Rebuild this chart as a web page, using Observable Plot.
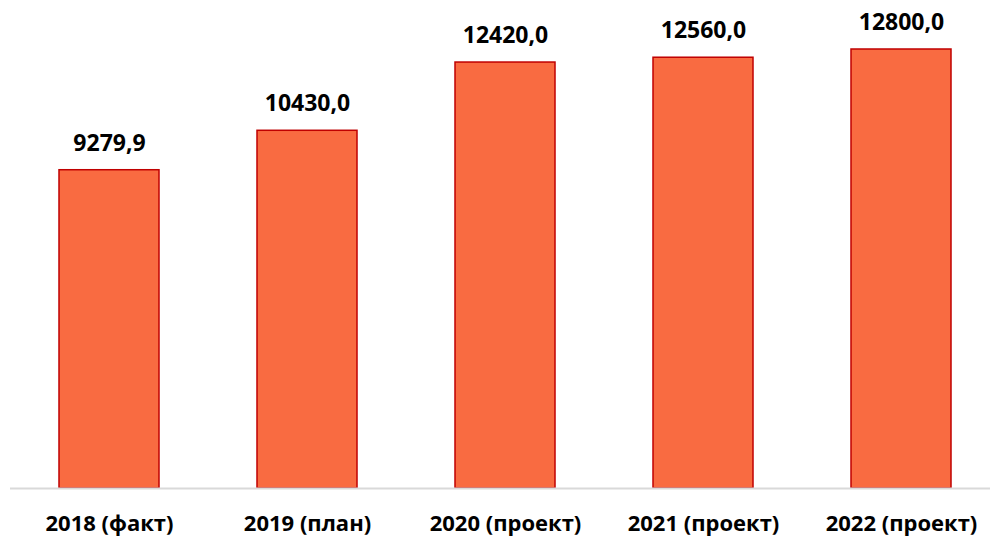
<!DOCTYPE html>
<html><head><meta charset="utf-8">
<script src="https://cdn.jsdelivr.net/npm/d3@7"></script>
<script src="https://cdn.jsdelivr.net/npm/@observablehq/plot@0.6"></script>
<style>body{margin:0;background:#fff;} svg{display:block;}</style>
</head><body><div id="chart"></div>
<script>
const categories = ["2018 (факт)", "2019 (план)", "2020 (проект)", "2021 (проект)", "2022 (проект)"];
const values = [9279.9, 10430.0, 12420.0, 12560.0, 12800.0];
const data = categories.map((c, i) => ({cat: c, value: values[i]}));
const fmt = v => d3.format(".1f")(v).replace(".", ",");
const chart = Plot.plot({
  width: 990, height: 536,
  marginLeft: 10, marginRight: 0, marginTop: 0, marginBottom: 48,
  style: {fontFamily: "'Open Sans', sans-serif", background: "#fff"},
  x: {domain: categories, range: [9, 1000], paddingInner: 0.495, paddingOuter: 0.2475, label: null, tickSize: 0, tickPadding: 0},
  y: {domain: [0, 12800], range: [488, 49], axis: null},
  marks: [
    Plot.barY(data, {x: "cat", y: "value", fill: "#F96B41", stroke: "#C00000", strokeWidth: 1.5}),
    Plot.ruleY([0], {stroke: "#D9D9D9", strokeWidth: 2}),
    Plot.text(data, {x: "cat", y: "value", text: d => fmt(d.value), lineAnchor: "middle", dy: -27, fontSize: 23, fontWeight: "bold", fill: "#000"}),
    Plot.axisX({tickSize: 0, tickPadding: 0, fontSize: 22, fontWeight: "bold", dy: 35, lineAnchor: "middle", color: "#000", label: null})
  ]
});
chart.querySelectorAll("[aria-label='x-axis tick label'] text").forEach(t => { t.setAttribute("font-weight", "bold"); t.setAttribute("fill", "#000"); });
document.getElementById("chart").append(chart);
</script></body></html>
